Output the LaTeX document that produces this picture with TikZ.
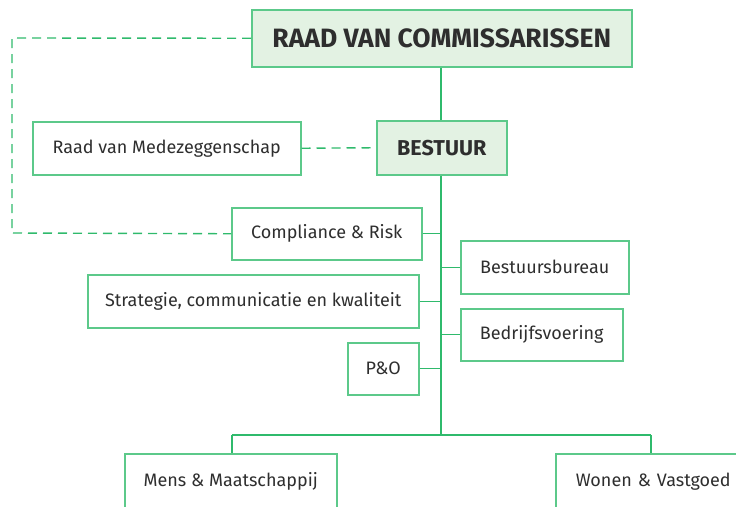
\documentclass[tikz,border=0pt]{standalone}
\usepackage{fontspec}
\setmainfont{Fira Sans}
\definecolor{lgreen}{HTML}{2FBA6C}
\definecolor{bgreen}{HTML}{5CC98A}
\definecolor{fillg}{HTML}{E3F2E3}
\definecolor{txt}{HTML}{2E2E2E}
\begin{document}
\begin{tikzpicture}[x=1pt,y=-1pt,
  box/.style={draw=bgreen, line width=1.5pt, text=txt, font=\fontsize{18}{20}\selectfont, inner sep=0pt, anchor=north west},
  head/.style={box, fill=fillg},
  conn/.style={draw=lgreen, line width=1.4pt},
  dconn/.style={draw=lgreen, line width=1.4pt, dash pattern=on 9pt off 6pt}]
\useasboundingbox (0,0) rectangle (736,506);
\clip (0,0) rectangle (736,506);
\node[head, minimum width=380pt, minimum height=57pt, font=\bfseries\fontsize{26.5}{28}\selectfont] (rvc) at (251,9) {RAAD VAN COMMISSARISSEN};
\node[box, minimum width=268pt, minimum height=53pt] (rmz) at (32,121) {Raad van Medezeggenschap};
\node[head, minimum width=130pt, minimum height=54pt, font=\bfseries\fontsize{21.5}{24}\selectfont] (bes) at (376,120) {BESTUUR};
\node[box, minimum width=190pt, minimum height=52pt] (cr) at (231,207) {Compliance \& Risk};
\node[box, minimum width=168pt, minimum height=53pt] (bb) at (460,240) {Bestuursbureau};
\node[box, minimum width=331pt, minimum height=53pt] (sck) at (87,274) {Strategie, communicatie en kwaliteit};
\node[box, minimum width=162pt, minimum height=52pt] (bv) at (460,308) {Bedrijfsvoering};
\node[box, minimum width=71pt, minimum height=52pt] (po) at (347,342) {P\&O};
\node[box, minimum width=212pt, minimum height=60pt] (mm) at (124,453) {\raisebox{8pt}{Mens \& Maatschappij}};
\node[box, minimum width=190pt, minimum height=60pt, text width=186pt, align=left] (wv) at (555,453) {\hspace*{18pt}\raisebox{8pt}{Wonen \& Vastgoed}};
\coordinate (tr) at (441,435);
\coordinate (tl) at (232,435);
\coordinate (trr) at (651,435);
% trunk
\draw[conn] (rvc.south -| tr) -- (bes.north -| tr);
\draw[conn] (bes.south -| tr) -- (tr);
\draw[conn] (cr.east) -- (cr.east -| tr);
\draw[conn] (bb.west) -- (bb.west -| tr);
\draw[conn] (sck.east) -- (sck.east -| tr);
\draw[conn] (bv.west) -- (bv.west -| tr);
\draw[conn] (po.east) -- (po.east -| tr);
\draw[conn] (tl) -- (trr);
\draw[conn] (tl) -- (mm.north -| tl);
\draw[conn] (trr) -- (wv.north -| trr);
% dashed
\draw[dconn] (rvc.west) -- (12,38) -- (12,233) -- (cr.west);
\draw[dconn] (rmz.east) -- (bes.west);
\end{tikzpicture}
\end{document}
